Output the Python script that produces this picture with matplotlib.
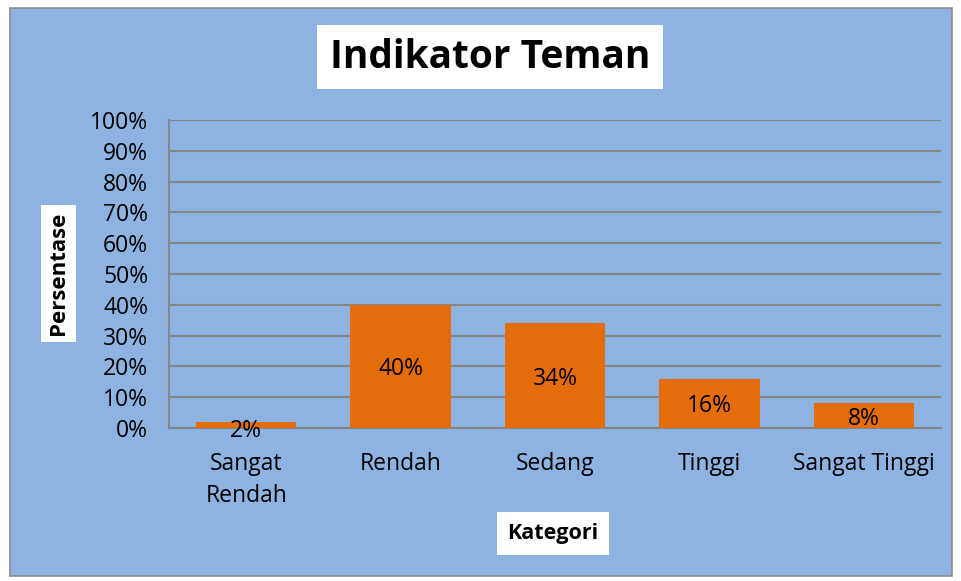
import matplotlib.pyplot as plt
from matplotlib.patches import Rectangle

categories = ["Sangat\nRendah", "Rendah", "Sedang", "Tinggi", "Sangat Tinggi"]
values = [2, 40, 34, 16, 8]
yticks = [0, 10, 20, 30, 40, 50, 60, 70, 80, 90, 100]

plt.rcParams['font.family'] = ['Open Sans', 'DejaVu Sans']

W, H = 961, 581
fig = plt.figure(figsize=(W / 100, H / 100), dpi=100)
fig.patch.set_facecolor('white')

# chart area background with border
fig.patches.append(Rectangle((10 / W, 1 - 576 / H), 942 / W, 568 / H,
                             transform=fig.transFigure, facecolor='#8DB3E2',
                             edgecolor='#8C8C8C', linewidth=1.2, zorder=-5))

ax = fig.add_axes([169 / W, 1 - 428 / H, (941 - 169) / W, (428 - 120) / H])
ax.set_zorder(2)
ax.set_facecolor('none')
x = range(len(categories))
bars = ax.bar(x, values, width=0.65, color='#E46C0A', zorder=3)
for i, v in enumerate(values):
    ypos = v / 2 if v > 5 else 0.0
    ax.text(i, ypos, f"{v}%", ha='center', va='center_baseline',
            fontsize=16.5, zorder=4)

ax.set_ylim(0, 100)
ax.set_xlim(-0.5, len(categories) - 0.5)
ax.set_yticks(yticks)
ax.set_yticklabels([f"{t}%" for t in yticks], fontsize=16.5)
ax.set_xticks(list(x))
ax.set_xticklabels(categories, fontsize=16.5, linespacing=1.45)
ax.tick_params(axis='both', length=0)
ax.tick_params(axis='y', pad=15)
ax.tick_params(axis='x', pad=17)
ax.yaxis.grid(True, color='#868686', linewidth=1.5, zorder=1)
for side in ['top', 'right']:
    ax.spines[side].set_visible(False)
ax.spines['left'].set_color('#868686')
ax.spines['bottom'].set_color('#868686')
ax.spines['left'].set_linewidth(1.5)
ax.spines['bottom'].set_linewidth(1.5)

fig.text(490 / W, 1 - 57 / H, "Indikator Teman", ha='center', va='center',
         fontsize=28, fontweight='bold',
         bbox=dict(facecolor='white', edgecolor='none', boxstyle='square,pad=0.33'))
fig.text(58.5 / W, 1 - 273.5 / H, "Persentase", ha='center', va='center',
         rotation=90, fontsize=16, fontweight='bold',
         bbox=dict(facecolor='white', edgecolor='none', boxstyle='square,pad=0.3'))
fig.text(553 / W, 1 - 533.5 / H, "Kategori", ha='center', va='center',
         fontsize=15.5, fontweight='bold',
         bbox=dict(facecolor='white', edgecolor='none', boxstyle='square,pad=0.5'))

fig.savefig('out.png', dpi=100, facecolor='white')
